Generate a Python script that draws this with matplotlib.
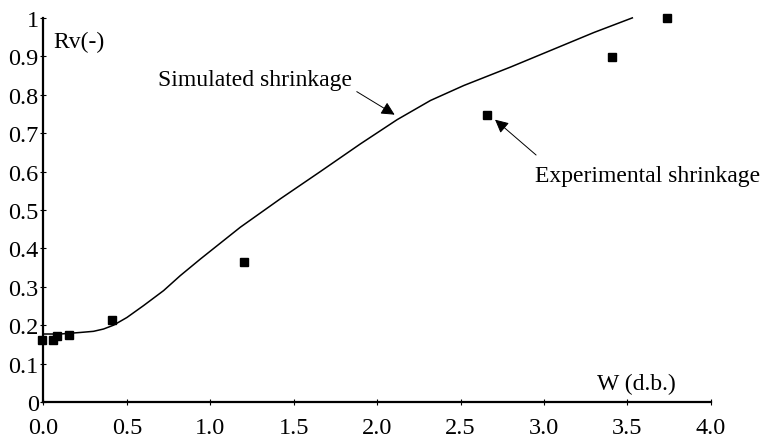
import matplotlib.pyplot as plt
from matplotlib.ticker import FixedLocator, FixedFormatter

# experimental shrinkage (squares)
exp_w = [-0.01, 0.06, 0.08, 0.15, 0.41, 1.20, 2.66, 3.41, 3.74]
exp_rv = [0.162, 0.162, 0.171, 0.174, 0.214, 0.365, 0.748, 0.898, 0.999]

# simulated shrinkage (line)
sim_w = [0.0, 0.10, 0.22, 0.30, 0.36, 0.42, 0.50, 0.60, 0.72, 0.82, 0.94,
         1.18, 1.42, 1.66, 1.90, 2.12, 2.32, 2.52, 2.80, 3.30, 3.53]
sim_rv = [0.177, 0.177, 0.181, 0.184, 0.190, 0.200, 0.220, 0.251, 0.290,
          0.329, 0.372, 0.455, 0.529, 0.600, 0.672, 0.735, 0.785, 0.824,
          0.872, 0.962, 1.0]

x_ticks = [0.0, 0.5, 1.0, 1.5, 2.0, 2.5, 3.0, 3.5, 4.0]
x_labels = ['0.0', '0.5', '1.0', '1.5', '2.0', '2.5', '3.0', '3.5', '4.0']
y_ticks = [0, 0.1, 0.2, 0.3, 0.4, 0.5, 0.6, 0.7, 0.8, 0.9, 1.0]
y_labels = ['0', '0.1', '0.2', '0.3', '0.4', '0.5', '0.6', '0.7', '0.8', '0.9', '1']

plt.rcParams['font.family'] = ['Liberation Serif', 'DejaVu Serif']

fig = plt.figure(figsize=(7.63, 4.39), dpi=100)
ax = fig.add_axes([0.057, 0.082, 0.8745, 0.875])

ax.plot(sim_w, sim_rv, color='black', linewidth=1.1, clip_on=False)
ax.plot(exp_w, exp_rv, linestyle='none', marker='s', markersize=6,
        color='black', clip_on=False)

ax.set_xlim(0, 4)
ax.set_ylim(0, 1)

for side in ['top', 'right']:
    ax.spines[side].set_visible(False)
for side in ['left', 'bottom']:
    ax.spines[side].set_linewidth(1.6)

ax.xaxis.set_major_locator(FixedLocator(x_ticks))
ax.xaxis.set_major_formatter(FixedFormatter(x_labels))
ax.yaxis.set_major_locator(FixedLocator(y_ticks))
ax.yaxis.set_major_formatter(FixedFormatter(y_labels))
ax.tick_params(axis='both', direction='inout', length=5, width=0.8,
               labelsize=17.5)
ax.tick_params(axis='x', pad=8)
ax.tick_params(axis='y', pad=1)

ax.text(0.059, 0.924, 'Rv(-)', fontsize=17)
ax.text(3.316, 0.034, 'W (d.b.)', fontsize=17)

ax.text(0.686, 0.826, 'Simulated shrinkage', fontsize=17,
        ha='left', va='baseline')
ax.annotate('', xy=(2.105, 0.748), xytext=(1.878, 0.808),
            arrowprops=dict(arrowstyle='-|>', color='black', lw=0.7,
                            mutation_scale=20, shrinkA=0, shrinkB=0))

ax.text(2.947, 0.576, 'Experimental shrinkage', fontsize=17,
        ha='left', va='baseline')
ax.annotate('', xy=(2.707, 0.735), xytext=(2.953, 0.643),
            arrowprops=dict(arrowstyle='-|>', color='black', lw=0.7,
                            mutation_scale=20, shrinkA=0, shrinkB=0))

fig.savefig('out.png', dpi=100)
